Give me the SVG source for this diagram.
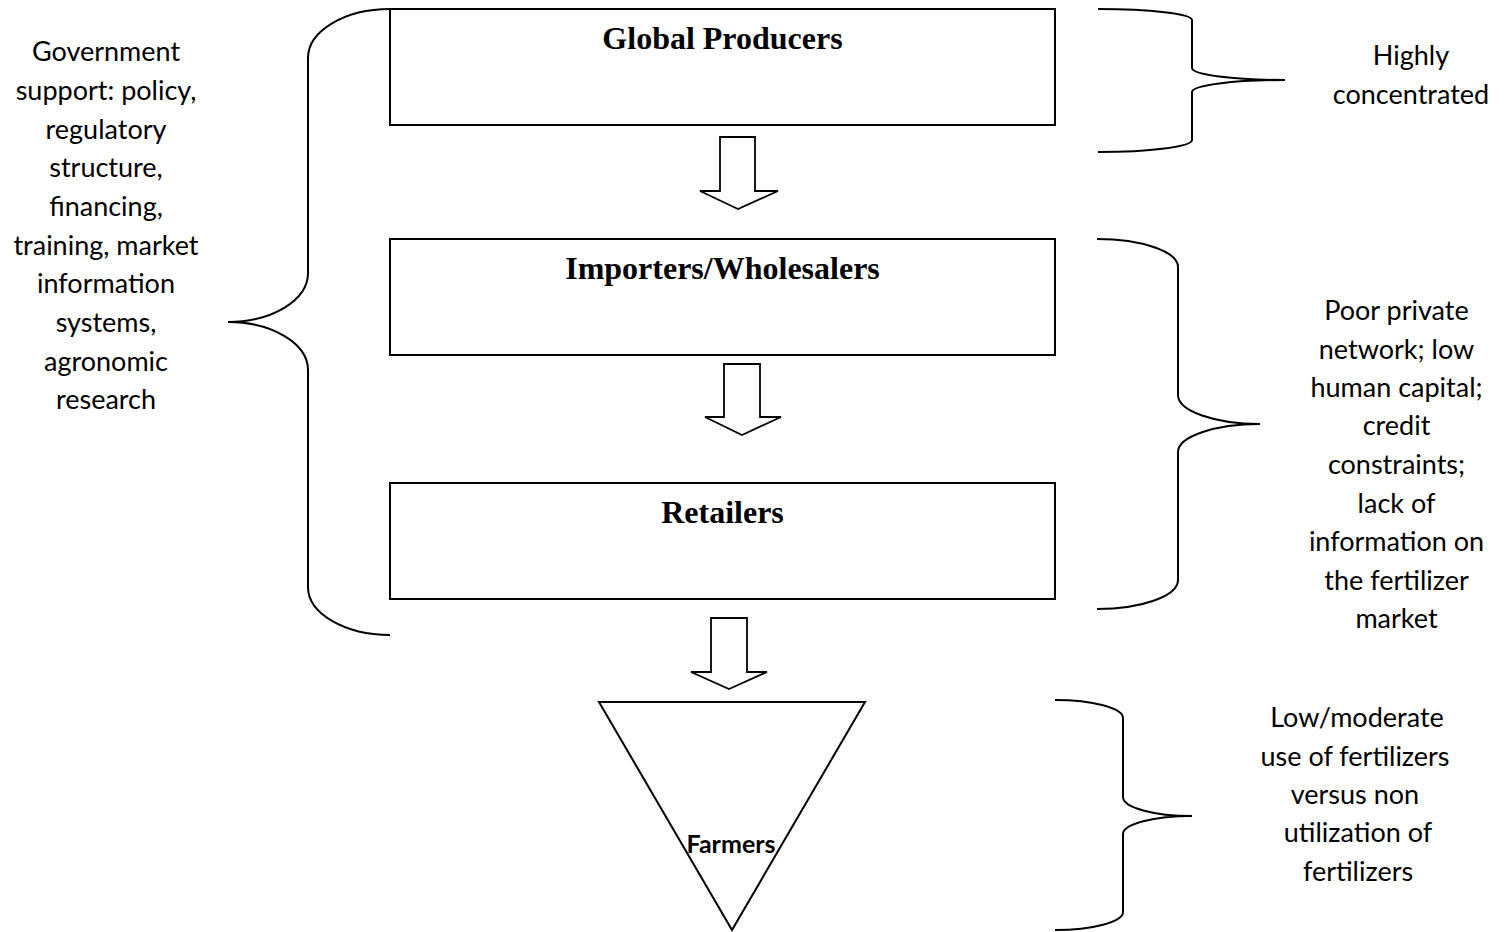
<svg xmlns="http://www.w3.org/2000/svg" width="1507" height="932" viewBox="0 0 1507 932">
  <style>
    .box { fill: #fff; stroke: #000; stroke-width: 2; }
    .arrow { fill: #fff; stroke: #000; stroke-width: 1.8; stroke-linejoin: miter; }
    .brace { fill: none; stroke: #000; stroke-width: 2; }
    .title { font-family: "Liberation Serif", "Times New Roman", serif; font-weight: bold; font-size: 32px; text-anchor: middle; fill: #000; }
    .note { font-family: Lato, "Liberation Sans", sans-serif; font-size: 27px; text-anchor: middle; fill: #000; }
    .farm { font-family: Lato, "Liberation Sans", sans-serif; font-weight: bold; font-size: 25px; text-anchor: middle; fill: #000; }
  </style>

  <rect width="1507" height="932" fill="#fff"/>

  <!-- supply chain levels -->
  <g id="global-producers">
    <rect class="box" x="390" y="9" width="665" height="116"/>
    <text class="title" x="722.5" y="49">Global Producers</text>
  </g>
  <g id="importers-wholesalers">
    <rect class="box" x="390" y="239" width="665" height="116"/>
    <text class="title" x="722.5" y="279">Importers/Wholesalers</text>
  </g>
  <g id="retailers">
    <rect class="box" x="390" y="483" width="665" height="116"/>
    <text class="title" x="722.5" y="523">Retailers</text>
  </g>
  <g id="farmers">
    <polygon class="box" points="599,702 865,702 732,930"/>
    <text class="farm" x="731" y="853">Farmers</text>
  </g>

  <!-- block arrows between levels -->
  <g id="connectors">
    <polygon class="arrow" points="720,137 755,137 755,191 778,191 738,209 700,191 720,191"/>
    <polygon class="arrow" points="724,364 760,364 760,417 781,417 742,435 705,417 724,417"/>
    <polygon class="arrow" points="711,618 747,618 747,672 767,672 729,689 691,672 711,672"/>
  </g>

  <!-- curly braces -->
  <g id="brace-left">
    <path class="brace" d="M390,9 A82,49 0 0 0 308,58 L308,273 A80,49 0 0 1 228,322 A80,48 0 0 1 308,370 L308,587 A82,48 0 0 0 390,635"/>
  </g>
  <g id="brace-producers">
    <path class="brace" d="M1098,9 A94,11 0 0 1 1192,20 L1192,68 A93,12 0 0 0 1285,80 A93,12 0 0 0 1192,92 L1192,140 A94,12 0 0 1 1098,152"/>
  </g>
  <g id="brace-intermediaries">
    <path class="brace" d="M1097,239 A81,28 0 0 1 1178,267 L1178,395 A82,29 0 0 0 1260,424 A82,28 0 0 0 1178,452 L1178,580 A81,29 0 0 1 1097,609"/>
  </g>
  <g id="brace-farmers">
    <path class="brace" d="M1055,700 A68,18 0 0 1 1123,718 L1123,797 A69,19 0 0 0 1192,816 A69,18 0 0 0 1123,834 L1123,912 A68,18 0 0 1 1055,930"/>
  </g>

  <!-- annotations -->
  <g id="note-government">
    <text class="note" x="106" y="61">Government</text>
    <text class="note" x="106" y="100">support: policy,</text>
    <text class="note" x="106" y="139">regulatory</text>
    <text class="note" x="106" y="177">structure,</text>
    <text class="note" x="106" y="216">financing,</text>
    <text class="note" x="106" y="255">training, market</text>
    <text class="note" x="106" y="293">information</text>
    <text class="note" x="106" y="332">systems,</text>
    <text class="note" x="106" y="371">agronomic</text>
    <text class="note" x="106" y="409">research</text>
  </g>
  <g id="note-concentrated">
    <text class="note" x="1411" y="65">Highly</text>
    <text class="note" x="1411" y="104">concentrated</text>
  </g>
  <g id="note-constraints">
    <text class="note" x="1396.5" y="320">Poor private</text>
    <text class="note" x="1396.5" y="359">network; low</text>
    <text class="note" x="1396.5" y="397">human capital;</text>
    <text class="note" x="1396.5" y="435">credit</text>
    <text class="note" x="1396.5" y="474">constraints;</text>
    <text class="note" x="1396.5" y="513">lack of</text>
    <text class="note" x="1396.5" y="551">information on</text>
    <text class="note" x="1396.5" y="590">the fertilizer</text>
    <text class="note" x="1396.5" y="628">market</text>
  </g>
  <g id="note-use">
    <text class="note" x="1357" y="727">Low/moderate</text>
    <text class="note" x="1355" y="766">use of fertilizers</text>
    <text class="note" x="1355" y="804">versus non</text>
    <text class="note" x="1358" y="842">utilization of</text>
    <text class="note" x="1358" y="881">fertilizers</text>
  </g>
</svg>
